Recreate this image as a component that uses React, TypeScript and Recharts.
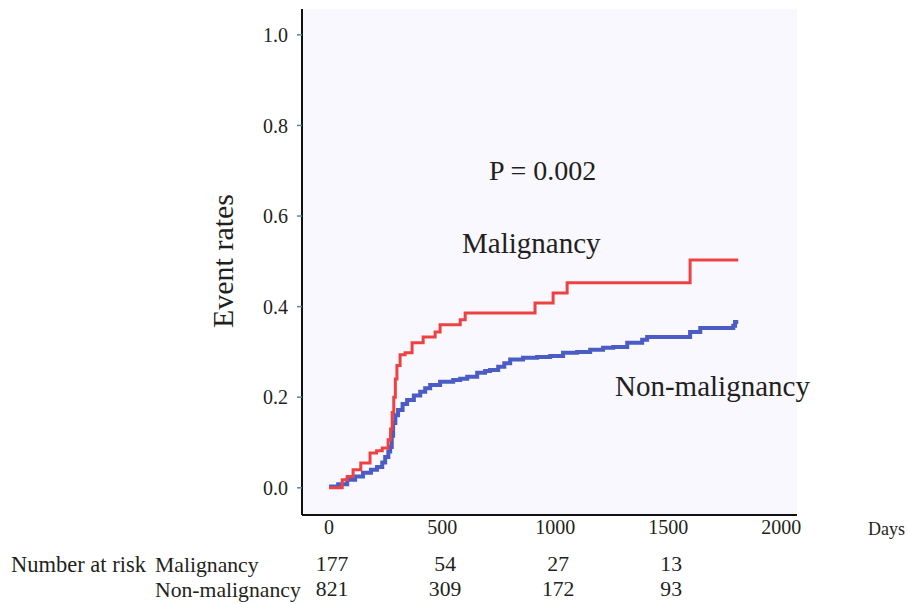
import React from "react";
import { LineChart, Line, XAxis, YAxis, CartesianGrid } from "recharts";

// ---- Data ----
const malignancyDays = [0, 58, 80, 106, 140, 181, 210, 235, 261, 272, 279, 286, 293, 300, 314, 336, 367, 416, 469, 491, 580, 602, 911, 991, 1053, 1597, 1810];
const malignancyRates = [0, 0.018, 0.025, 0.04, 0.055, 0.077, 0.082, 0.088, 0.106, 0.13, 0.166, 0.2, 0.24, 0.27, 0.294, 0.298, 0.32, 0.333, 0.344, 0.36, 0.371, 0.386, 0.408, 0.43, 0.4525, 0.503, 0.503];

const nonMalDays = [0, 40, 80, 115, 150, 185, 212, 235, 248, 262, 270, 277, 283, 293, 305, 325, 345, 375, 403, 425, 447, 491, 549, 580, 611, 655, 690, 712, 748, 775, 801, 858, 920, 978, 1035, 1097, 1155, 1212, 1257, 1319, 1385, 1407, 1553, 1597, 1642, 1788, 1796, 1810];
const nonMalRates = [0.003, 0.008, 0.018, 0.025, 0.033, 0.04, 0.046, 0.056, 0.068, 0.08, 0.09, 0.115, 0.143, 0.16, 0.172, 0.185, 0.194, 0.204, 0.212, 0.22, 0.227, 0.234, 0.238, 0.241, 0.245, 0.254, 0.258, 0.26, 0.267, 0.275, 0.283, 0.287, 0.289, 0.291, 0.298, 0.3, 0.305, 0.309, 0.311, 0.32, 0.327, 0.333, 0.333, 0.344, 0.353, 0.358, 0.366, 0.366];

const xTicks = [0, 500, 1000, 1500, 2000];
const yTicks = [0, 0.2, 0.4, 0.6, 0.8, 1.0];
const riskMalignancy = ["177", "54", "27", "13", ""];
const riskNonMalignancy = ["821", "309", "172", "93", ""];

const malignancyData = malignancyDays.map((d, i) => ({ day: d, rate: malignancyRates[i] }));
const nonMalData = nonMalDays.map((d, i) => ({ day: d, rate: nonMalRates[i] }));

const FONT = "'Liberation Serif', 'Times New Roman', serif";
const TEXT = "#231F20";

const XTick = (props: any) => {
  const { x, y, payload, index } = props;
  return (
    <g>
      <text x={x} y={y + 19} textAnchor="middle" fontFamily={FONT} fontSize={20} fill={TEXT}>
        {payload.value}
      </text>
      <text x={x + 3} y={y + 56} textAnchor="middle" fontFamily={FONT} fontSize={21.7} fill={TEXT}>
        {riskMalignancy[index]}
      </text>
      <text x={x + 3} y={y + 81} textAnchor="middle" fontFamily={FONT} fontSize={21.7} fill={TEXT}>
        {riskNonMalignancy[index]}
      </text>
    </g>
  );
};

export default function App() {
  return (
    <div style={{ position: "absolute", left: 0, top: 0, width: 908, height: 604, background: "#fff" }}>
      <LineChart
        width={908}
        height={604}
        margin={{ top: 9, right: 111, bottom: 59, left: 242 }}
      >
        <CartesianGrid fill="#F8F8FE" stroke="none" horizontal={false} vertical={false} />
        <XAxis
          dataKey="day"
          type="number"
          domain={[-120, 2070]}
          ticks={xTicks}
          allowDataOverflow
          height={30}
          axisLine={{ stroke: "#111", strokeWidth: 2 }}
          tickLine={false}
          tickSize={0}
          tickMargin={0}
          tick={<XTick />}
          interval={0}
        />
        <YAxis
          type="number"
          domain={[-0.06, 1.057]}
          ticks={yTicks}
          allowDataOverflow
          width={60}
          axisLine={{ stroke: "#111", strokeWidth: 2 }}
          tickLine={{ stroke: "#4F8C99", strokeWidth: 1.5 }}
          tickSize={5}
          tickMargin={9}
          tickFormatter={(v: number) => v.toFixed(1)}
          tick={{ fontFamily: FONT, fontSize: 20, fill: TEXT }}
          interval={0}
        />
        <Line
          data={nonMalData}
          dataKey="rate"
          type="stepAfter"
          stroke="#4B5CC4"
          strokeWidth={4}
          dot={false}
          isAnimationActive={false}
        />
        <Line
          data={malignancyData}
          dataKey="rate"
          type="stepAfter"
          stroke="#EE4242"
          strokeWidth={3}
          dot={false}
          isAnimationActive={false}
        />
      </LineChart>
      <svg width={908} height={604} style={{ position: "absolute", left: 0, top: 0, pointerEvents: "none" }}>
        <g fontFamily={FONT} fill={TEXT}>
          <text x={489} y={180} fontSize={28}>P = 0.002</text>
          <text x={462} y={253} fontSize={29}>Malignancy</text>
          <text x={615} y={396} fontSize={29}>Non-malignancy</text>
          <text x={233} y={261} fontSize={30} textAnchor="middle" transform="rotate(-90 233 261)">Event rates</text>
          <text x={868} y={535} fontSize={18}>Days</text>
          <text x={11} y={572} fontSize={22.5}>Number at risk</text>
          <text x={155} y={572} fontSize={21.7}>Malignancy</text>
          <text x={155} y={597} fontSize={21.7}>Non-malignancy</text>
        </g>
      </svg>
    </div>
  );
}
